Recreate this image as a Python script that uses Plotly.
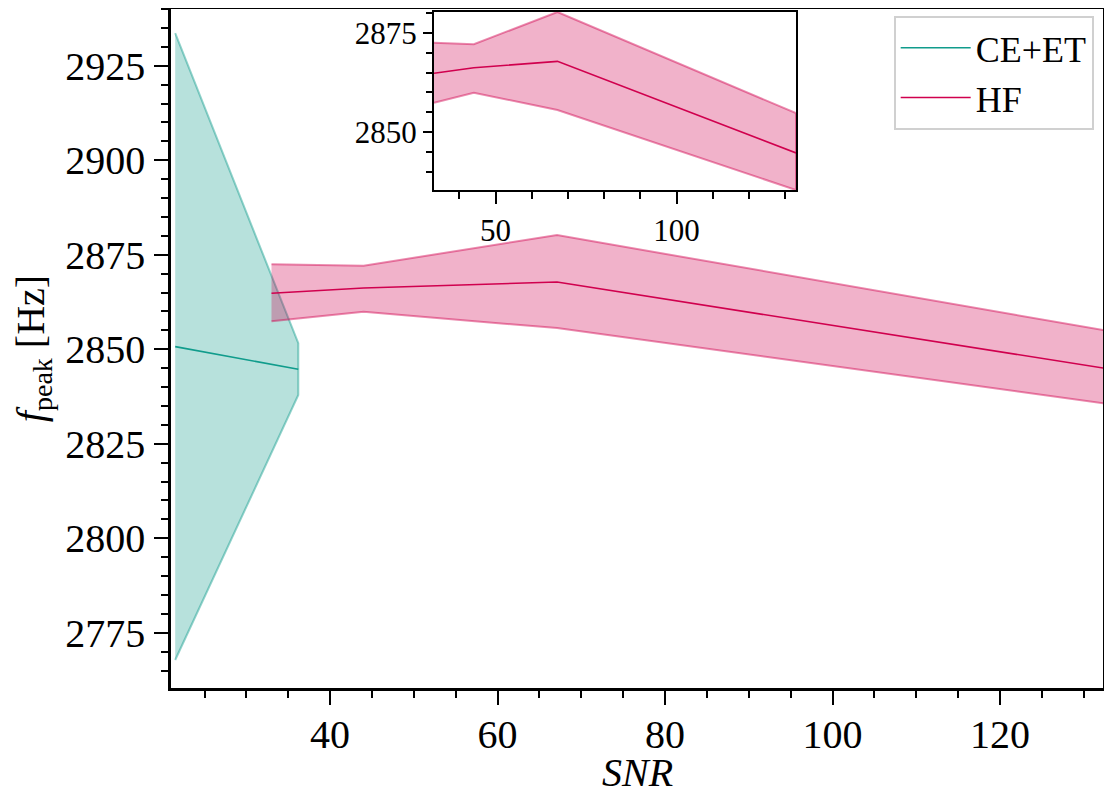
"""Peak frequency vs SNR for two detector networks, with zoomed inset on HF."""

import plotly.graph_objects as go

# CE+ET network
ce_snr = [21.5, 36.2]
ce_med = [2850.7, 2844.7]
ce_lo = [2767.8, 2837.9]
ce_hi = [2933.6, 2851.6]

# HF detector
hf_snr = [33.0, 44.0, 67.1, 133.0]
hf_med = [2864.8, 2866.2, 2867.8, 2844.8]
hf_lo = [2857.4, 2859.9, 2855.6, 2835.5]
hf_hi = [2872.5, 2872.1, 2880.2, 2854.8]

X_RANGE = [21.0, 132.3]
Y_RANGE = [2760.4, 2940.0]

TEAL = (16, 156, 140)
CRIMSON = (208, 0, 78)
FONT = "Liberation Serif"

# the page body adds an 8px margin, so the figure is sized to fit inside it
W, H = 1096, 787
MARGIN = dict(l=163, r=1, t=1, b=107)


def rgba(c, a):
    return f"rgba({c[0]},{c[1]},{c[2]},{a})"


def band(x, lo, hi, color, xa="x", ya="y"):
    """Closed polygon like matplotlib fill_between."""
    return go.Scatter(
        x=list(x) + list(x[::-1]),
        y=list(hi) + list(lo[::-1]),
        fill="toself",
        fillcolor=rgba(color, 0.3),
        line=dict(color=rgba(color, 0.45), width=2),
        mode="lines",
        hoverinfo="skip",
        showlegend=False,
        xaxis=xa,
        yaxis=ya,
    )


def median(x, y, color, name, xa="x", ya="y", legend=True):
    return go.Scatter(
        x=x,
        y=y,
        mode="lines",
        line=dict(color=rgba(color, 1), width=1.6),
        name=name,
        showlegend=legend,
        xaxis=xa,
        yaxis=ya,
    )


def axis_style(**over):
    base = dict(
        showline=True,
        linecolor="black",
        linewidth=2.5,
        mirror=True,
        showgrid=False,
        zeroline=False,
        ticks="outside",
        tickcolor="black",
        tickwidth=2,
        ticklen=14,
        color="black",
        automargin=False,
    )
    base.update(over)
    return base


fig = go.Figure()
fig.add_trace(band(ce_snr, ce_lo, ce_hi, TEAL))
fig.add_trace(median(ce_snr, ce_med, TEAL, "CE+ET"))
fig.add_trace(band(hf_snr, hf_lo, hf_hi, CRIMSON))
fig.add_trace(median(hf_snr, hf_med, CRIMSON, "HF"))

# inset
fig.add_trace(band(hf_snr, hf_lo, hf_hi, CRIMSON, "x2", "y2"))
fig.add_trace(median(hf_snr, hf_med, CRIMSON, "HF", "x2", "y2", legend=False))

minor_main = dict(dtick=5, ticklen=7, tickwidth=2, ticks="outside", tickcolor="black")

plot_h = H - MARGIN["t"] - MARGIN["b"]

fig.update_layout(
    width=W,
    height=H,
    paper_bgcolor="white",
    plot_bgcolor="white",
    margin=MARGIN,
    font=dict(family=FONT, size=40, color="black"),
    xaxis=axis_style(
        range=X_RANGE,
        dtick=20,
        tick0=0,
        minor=minor_main,
        ticklabelstandoff=-5,
        tickfont=dict(family=FONT, size=40),
    ),
    yaxis=axis_style(
        range=Y_RANGE,
        dtick=25,
        tick0=2775,
        minor=minor_main,
        ticklabelstandoff=1,
        title=dict(text="<i>f</i><sub>peak</sub> [Hz]", standoff=45, font=dict(family=FONT, size=40)),
        tickfont=dict(family=FONT, size=40),
    ),
    xaxis2=axis_style(
        linewidth=2,
        domain=[0.2822, 0.6706],
        anchor="y2",
        range=[min(hf_snr), max(hf_snr)],
        dtick=50,
        tick0=0,
        ticklen=12,
        minor=dict(dtick=10, ticklen=7, tickwidth=2, ticks="outside", tickcolor="black"),
        tickfont=dict(family=FONT, size=31),
    ),
    yaxis2=axis_style(
        linewidth=2,
        domain=[0.7334, 0.9956],
        anchor="x2",
        range=[min(hf_lo), max(hf_hi)],
        dtick=25,
        tick0=2775,
        ticklen=9,
        minor=dict(dtick=5, ticklen=6, tickwidth=2, ticks="outside", tickcolor="black"),
        tickfont=dict(family=FONT, size=31),
    ),
    legend=dict(
        x=0.99,
        y=0.99,
        xanchor="right",
        yanchor="top",
        bgcolor="rgba(255,255,255,0.8)",
        bordercolor="#d0d0d0",
        borderwidth=2,
        font=dict(family=FONT, size=36),
        itemwidth=70,
    ),
)

# x title as an annotation so it can sit lower than the axis title allows
fig.add_annotation(
    text="<i>SNR</i>",
    xref="paper",
    yref="paper",
    x=0.5,
    y=-MARGIN["b"] / plot_h,
    xanchor="center",
    yanchor="bottom",
    yshift=-2,
    showarrow=False,
    font=dict(family=FONT, size=40, color="black"),
)

fig.write_html("out.html")
